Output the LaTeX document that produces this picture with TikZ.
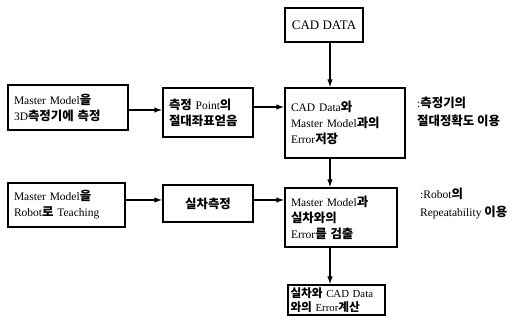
\documentclass[tikz,border=0pt]{standalone}
\usepackage{fontspec}
\usetikzlibrary{arrows.meta}
\setmainfont{Liberation Serif}
\newfontfamily\krfont{Noto Sans CJK KR}[Scale=1.08]
\newcommand{\hg}[1]{{\krfont\bfseries #1}}

\begin{document}
\begin{tikzpicture}[x=1pt, y=1pt,
    box/.style={draw, line width=1.3pt, inner sep=0pt, align=left,
        font=\fontsize{11.5}{16}\selectfont},
    note/.style={anchor=north west, inner sep=0pt, align=left,
        font=\fontsize{11.5}{18}\selectfont},
    flow/.style={-{Latex[length=8pt, width=5.5pt]}, line width=1.3pt}]
    \useasboundingbox (0,0) rectangle (520,320) ;
    \coordinate (spine) at (330,0) ;

    % upper row
    \node [box, minimum width=78pt, minimum height=34pt, align=center,
        font=\fontsize{13}{16}\selectfont] (cad) at (324,295) {CAD DATA} ;
    \node [box, minimum width=120pt, minimum height=45pt, text width=108pt]
        (meas3d) at (68,212.5) {Master Model\hg{을}\\3D\hg{측정기에 측정}} ;
    \node [box, minimum width=90pt, minimum height=49pt, text width=78pt]
        (point) at (208,207.5) {\hg{측정} Point\hg{의}\\\hg{절대좌표얻음}} ;
    \node [box, minimum width=120pt, minimum height=70pt, text width=108pt]
        (store) at (345,197) {CAD Data\hg{와}\\Master Model\hg{과의}\\Error\hg{저장}} ;
    \node [note] (acc) at (417,223) {:\hg{측정기의}\\\hg{절대정확도 이용}} ;

    % lower row
    \node [box, minimum width=117pt, minimum height=44pt, text width=105pt]
        (teach) at (66.5,115) {Master Model\hg{을}\\Robot\hg{로} Teaching} ;
    \node [box, minimum width=90pt, minimum height=37pt, align=center]
        (real) at (208,116.5) {\hg{실차측정}} ;
    \node [box, minimum width=112pt, minimum height=59pt, text width=100pt]
        (detect) at (341,102.5) {Master Model\hg{과}\\\hg{실차와의}\\Error\hg{를 검출}} ;
    \node [note] (rep) at (420,132) {:Robot\hg{의}\\Repeatability \hg{이용}} ;

    \node [box, minimum width=97pt, minimum height=30pt, text width=92pt,
        font=\fontsize{10.8}{14}\selectfont]
        (calc) at (336.5,20) {\hg{실차와}\ CAD Data\\\hg{와의} Error\hg{계산}} ;

    % connectors
    \draw [flow] (cad.south -| spine) -- (store.north -| spine) ;
    \draw [flow] (store.south -| spine) -- (detect.north -| spine) ;
    \draw [flow] (detect.south -| spine) -- (calc.north -| spine) ;
    \draw [flow] (meas3d.east |- 0,210) -- (point.west |- 0,210) ;
    \draw [flow] (point.east |- 0,213) -- (store.west |- 0,213) ;
    \draw [flow] (teach.east |- 0,120) -- (real.west |- 0,120) ;
    \draw [flow] (real.east |- 0,120) -- (detect.west |- 0,120) ;
\end{tikzpicture}
\end{document}
